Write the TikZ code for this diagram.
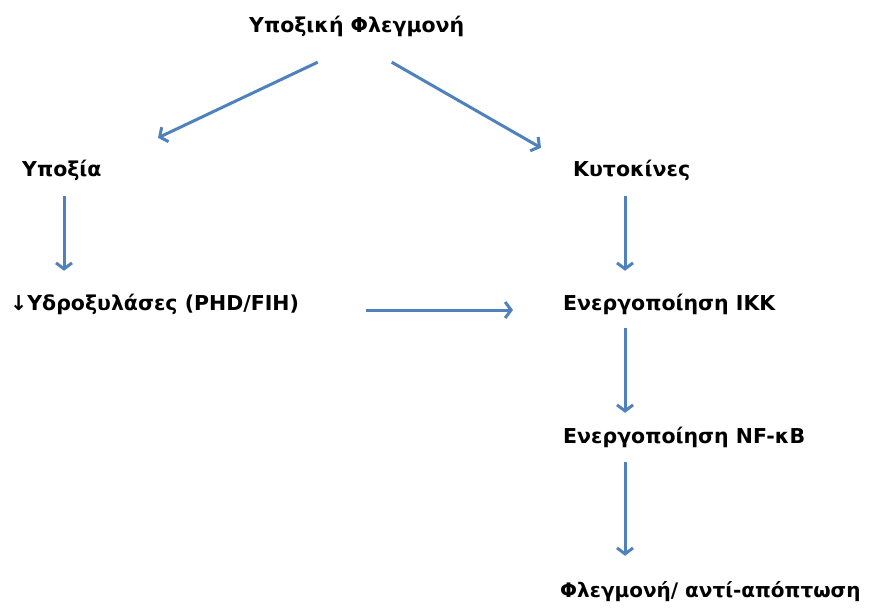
\documentclass[tikz,border=0pt]{standalone}
\usepackage{fontspec}
\setmainfont{DejaVu Sans}
\usepackage{xcolor}
\usetikzlibrary{arrows.meta,positioning}
\definecolor{flowblue}{HTML}{4F81BD}

\begin{document}
\begin{tikzpicture}[
    x=1pt, y=-1pt,
    label/.style={anchor=west, inner sep=0pt, text height=17pt, text depth=6pt, font=\bfseries\fontsize{20.5}{24}\selectfont},
    flow/.style={draw=flowblue, line width=3pt, -{Straight Barb[length=6pt,width=16pt]}}
]
\useasboundingbox (0,0) rectangle (869,610);
\coordinate (col) at (625,0);
\coordinate (lcol) at (64,0);
\node[label] (top) at (249,27) {Υποξική Φλεγμονή};
\node[label] (hyp) at (22,171) {Υποξία};
\node[label] (kyt) at (573,171) {Κυτοκίνες};
\node[label] (hyd) at (10,305) {↓Υδροξυλάσες (PHD/FIH)};
\node[label] (ikk) at (563,305) {Ενεργοποίηση ΙΚΚ};
\node[label] (nfkb) at (563,438) {Ενεργοποίηση NF-κB};
\node[label, font=\bfseries\fontsize{20}{24}\selectfont] (infl) at (560,592) {Φλεγμονή/ αντί-απόπτωση};

\draw[flow] ([xshift=-39pt,yshift=-23.5pt]top.south) -- ([xshift=136pt,yshift=21.5pt]hyp.north west);
\draw[flow] ([xshift=35pt,yshift=-23.5pt]top.south) -- ([xshift=-32pt,yshift=11.5pt]kyt.north west);
\draw[flow, shorten <=13.5pt, shorten >=22.5pt] (hyp.south -| lcol) -- (hyd.north -| lcol);
\draw[flow, shorten <=13.5pt, shorten >=22.5pt] (kyt.south -| col) -- (ikk.north -| col);
\draw[flow, shorten <=67pt, shorten >=50pt] ([yshift=-5pt]hyd.east) -- ([yshift=-5pt]ikk.west);
\draw[flow, shorten <=11.5pt, shorten >=13.5pt] (ikk.south -| col) -- (nfkb.north -| col);
\draw[flow, shorten <=12.5pt, shorten >=24.5pt] (nfkb.south -| col) -- (infl.north -| col);
\end{tikzpicture}
\end{document}
